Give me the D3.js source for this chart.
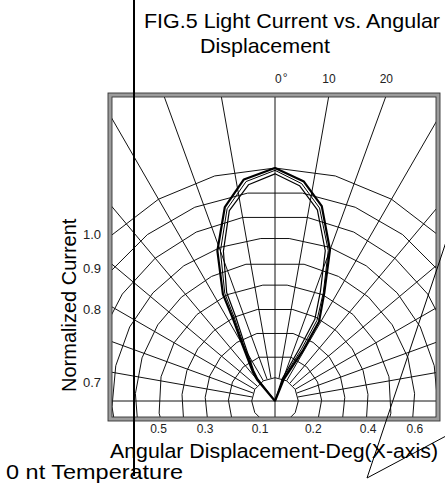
<!DOCTYPE html>
<html><head><meta charset="utf-8">
<script src="https://cdn.jsdelivr.net/npm/d3@7"></script>
<style>html,body{margin:0;padding:0;background:#fff;} svg{display:block;}</style>
</head><body>
<svg id="chart" width="445" height="483"></svg>
<script>
// ---------- data ----------
const titleLines = ["FIG.5 Light Current vs. Angular", "Displacement"];
const yAxisTitle = "Normalized Current";
const xAxisTitle = "Angular Displacement-Deg(X-axis)";
const footnote = "0 nt Temperature";

const ringValues = [0.1, 0.2, 0.3, 0.4, 0.5, 0.6, 0.7, 0.8, 0.9, 1.0];
const ringSteps  = [30, 23, 18, 15, 18, 15, 14.5, 15, 15, 15];   // degrees between polygon vertices
const ringPhases = [0, 20, 15, 11, 6, 12, 5, 10, 7.5, 0];        // first vertex angle
const spokeAngles = [-80, -70, -60, -50, -40, -30, -20, -10, 10, 20, 30, 40, 50, 60, 70, 80];
const throughAngles = [0, 90];

const yTickValues = [1.0, 0.9, 0.8, 0.7];
const yTickLabels = ["1.0", "0.9", "0.8", "0.7"];
const xTickValues = [-0.5, -0.3, -0.1, 0.2, 0.4, 0.6];   // sign = side of the origin
const xTickLabels = ["0.5", "0.3", "0.1", "0.2", "0.4", "0.6"];
const topTickAngles = [0, 10, 20];
const topTickLabels = ["0", "10", "20"];

// lobe curves: [angle (deg), normalized value]
const seriesA = [[0,0],[-40,0.12],[-37,0.16],[-30,0.28],[-27,0.40],[-26,0.51],[-21,0.69],[-14.5,0.86],[-8,0.96],[0,1.0],
                 [7.5,0.95],[13.5,0.86],[20,0.69],[24.5,0.51],[29,0.39],[29,0.25],[22,0.10],[0,0]];
const seriesB = [[0,0],[-39,0.12],[-36,0.16],[-29,0.28],[-26,0.40],[-25,0.51],[-20,0.685],[-14,0.85],[-7.5,0.95],[0,0.99],
                 [7,0.94],[13,0.85],[19.5,0.685],[24,0.51],[27.5,0.39],[27,0.25],[20,0.10],[0,0]];
const seriesC = [[0,0],[-38,0.12],[-35,0.16],[-28,0.28],[-25,0.40],[-24,0.51],[-19,0.68],[-13.5,0.84],[-7,0.935],[0,0.975],
                 [6.5,0.93],[12.5,0.84],[18.5,0.68],[22.5,0.51],[26,0.39],[25,0.25],[18,0.10],[0,0]];

// ---------- layout ----------
const W = 445, H = 483;
const cx = 275, cy = 401, R = 233;
const frame = {x0: 110, y0: 95, x1: 438, y1: 419};
const font = "'Liberation Sans', Arial, Helvetica, sans-serif";

const svg = d3.select("#chart");
const rad = d => d * Math.PI / 180;
const r = d3.scaleLinear().domain([0, 1]).range([0, R]);
const radial = d3.lineRadial().angle(d => rad(d[0])).radius(d => r(d[1]));

svg.append("defs").append("clipPath").attr("id", "frameClip")
  .append("rect").attr("x", frame.x0).attr("y", frame.y0)
  .attr("width", frame.x1 - frame.x0).attr("height", frame.y1 - frame.y0);

const grid = svg.append("g").attr("clip-path", "url(#frameClip)")
  .append("g").attr("transform", `translate(${cx},${cy})`);

// rings
ringValues.forEach((v, i) => {
  const step = ringSteps[i], ph = ringPhases[i];
  const pos = [];
  for (let a = ph; a <= 152; a += step) pos.push(a);
  let angles = pos.slice().reverse().map(a => -a);
  if (ph === 0) angles.pop();
  angles = angles.concat(pos);
  grid.append("path").attr("d", radial(angles.map(a => [a, v])))
    .attr("fill", "none").attr("stroke", "#111").attr("stroke-width", 1);
});
// spokes
spokeAngles.forEach(a => {
  grid.append("path").attr("d", radial([[a, ringValues[0]], [a, 2]]))
    .attr("fill", "none").attr("stroke", "#111").attr("stroke-width", 1);
});
throughAngles.forEach(a => {
  grid.append("path").attr("d", radial([[a - 180, 2], [a, 2]]))
    .attr("fill", "none").attr("stroke", "#111").attr("stroke-width", 1);
});

// lobe curves
const curves = svg.append("g").attr("transform", `translate(${cx},${cy})`);
[[seriesC, 1.2], [seriesB, 1.0], [seriesA, 2.2]].forEach(([s, w]) => {
  curves.append("path").attr("d", radial(s)).attr("fill", "none")
    .attr("stroke", "#000").attr("stroke-width", w).attr("stroke-linejoin", "round");
});

// frame (grey double border)
const fw = frame.x1 - frame.x0, fh = frame.y1 - frame.y0;
svg.append("rect").attr("x", frame.x0).attr("y", frame.y0).attr("width", fw).attr("height", fh)
  .attr("fill", "none").attr("stroke", "#9c9c9c").attr("stroke-width", 4);
[-2, 2].forEach(o => {
  svg.append("rect").attr("x", frame.x0 + o).attr("y", frame.y0 + o)
    .attr("width", fw - 2 * o).attr("height", fh - 2 * o)
    .attr("fill", "none").attr("stroke", "#333").attr("stroke-width", 0.9);
});

// y tick labels (where rings meet the left edge)
const edgeDx = cx - (frame.x0 + 3);
yTickValues.forEach((v, i) => {
  const rr = r(v);
  const y = cy - Math.sqrt(Math.max(0, rr * rr - edgeDx * edgeDx));
  svg.append("text").attr("x", 101).attr("y", y + 5)
    .attr("text-anchor", "end").attr("font-family", font).attr("font-size", 13)
    .attr("fill", "#222").text(yTickLabels[i]);
});
// x tick labels
xTickValues.forEach((v, i) => {
  const x = cx + Math.sign(v) * r(Math.abs(v));
  const anchor = Math.abs(v) < 0.25 ? (v < 0 ? "start" : "end") : "middle";
  svg.append("text").attr("x", x).attr("y", 433)
    .attr("text-anchor", anchor).attr("font-family", font).attr("font-size", 12)
    .attr("fill", "#222").text(xTickLabels[i]);
});
// top angle labels
topTickAngles.forEach((a, i) => {
  const x = cx + (cy - frame.y0) * Math.tan(rad(a));
  const t = svg.append("text").attr("x", x).attr("y", 83)
    .attr("text-anchor", a === 0 ? "start" : "middle").attr("font-family", font).attr("font-size", 12)
    .attr("fill", "#222").text(topTickLabels[i]);
  if (a === 0) t.append("tspan").attr("dx", 1).attr("dy", -1).text("°");
});

// titles
svg.append("text").attr("x", 144).attr("y", 28).attr("font-family", font).attr("font-size", 21)
  .attr("textLength", 296).attr("lengthAdjust", "spacingAndGlyphs").text(titleLines[0]);
svg.append("text").attr("x", 200).attr("y", 53).attr("font-family", font).attr("font-size", 21)
  .attr("textLength", 130).attr("lengthAdjust", "spacingAndGlyphs").text(titleLines[1]);
svg.append("text").attr("transform", "translate(76,392) rotate(-90)")
  .attr("font-family", font).attr("font-size", 20).text(yAxisTitle);
svg.append("text").attr("x", 110).attr("y", 458).attr("font-family", font).attr("font-size", 20.5)
  .attr("textLength", 328).attr("lengthAdjust", "spacingAndGlyphs").text(xAxisTitle);
svg.append("text").attr("x", 6).attr("y", 478.5).attr("font-family", font).attr("font-size", 21)
  .attr("textLength", 177).attr("lengthAdjust", "spacingAndGlyphs").text(footnote);

// stray scan lines
const strays = [
  {x1: 134, y1: 0, x2: 134, y2: 476, w: 2},
  {x1: 367, y1: 478, x2: 446, y2: 242, w: 1},
  {x1: 367, y1: 478, x2: 446, y2: 436, w: 1}
];
strays.forEach(s => svg.append("line").attr("x1", s.x1).attr("y1", s.y1).attr("x2", s.x2).attr("y2", s.y2)
  .attr("stroke", "#000").attr("stroke-width", s.w));
</script>
</body></html>
